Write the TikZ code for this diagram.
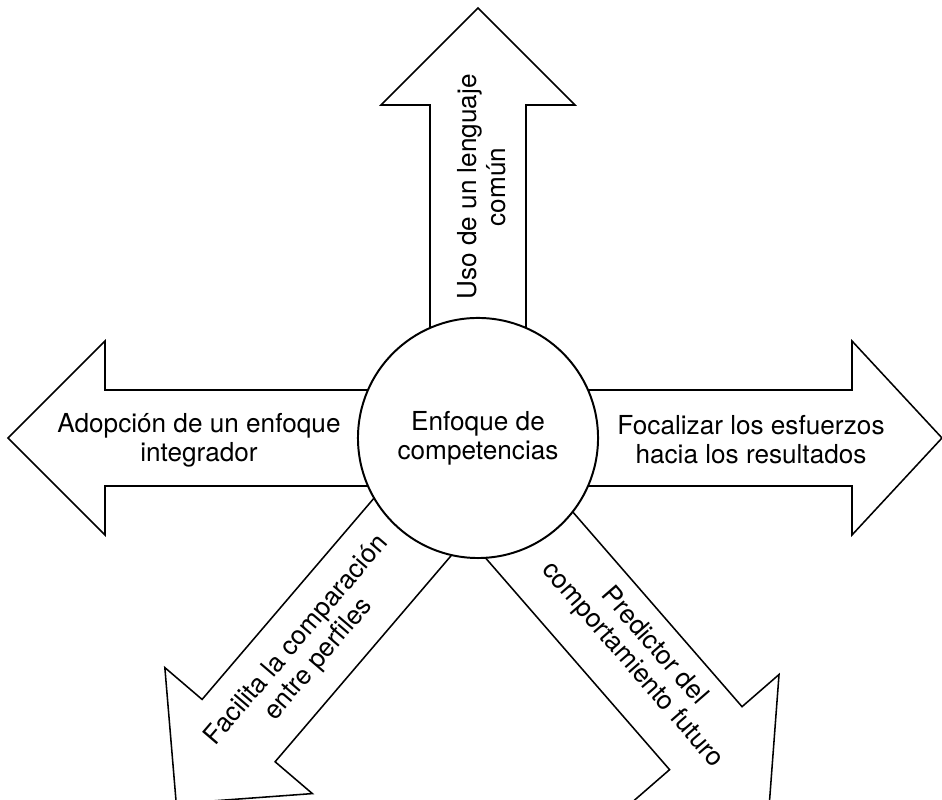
\documentclass[tikz,border=0pt]{standalone}
\usepackage{fontspec}
\setmainfont{TeX Gyre Heros}

\begin{document}
\begin{tikzpicture}[x=0.025cm, y=0.025cm,
      every node/.append style={font=\fontsize{18.6}{20.6}\selectfont,align=center,inner sep=0pt},
      arm/.style={draw=black,fill=white,line width=1.1pt,line join=miter}]
    \tikzstyle{hub} = [circle,draw=black,fill=white,line width=1.4pt,minimum size=6cm]
    \useasboundingbox (0,0) rectangle (942,800);
    \coordinate (centre) at (478,362);
    % the five arms, below the circle
    \begin{scope}[shift={(centre)},rotate=90]
      \draw[arm] (0,-48) -- (333,-48) -- (333,-97) -- (430,0) -- (333,97) -- (333,48) -- (0,48) -- cycle;
    \end{scope}
    \begin{scope}[shift={(centre)},rotate=180]
      \draw[arm] (0,-48) -- (373,-48) -- (373,-97) -- (470,0) -- (373,97) -- (373,48) -- (0,48) -- cycle;
    \end{scope}
    \begin{scope}[shift={(centre)},rotate=0]
      \draw[arm] (0,-48) -- (374,-48) -- (374,-97) -- (464,0) -- (374,97) -- (374,48) -- (0,48) -- cycle;
    \end{scope}
    \begin{scope}[shift={(centre)},rotate=229.5]
      \draw[arm] (0,-40) -- (378,-40) -- (378,-89) -- (474,8) -- (378,105) -- (378,56) -- (0,56) -- cycle;
    \end{scope}
    \begin{scope}[shift={(centre)},rotate=311]
      \draw[arm] (0,-73) -- (376,-73) -- (376,-122) -- (472,-25) -- (376,72) -- (376,23) -- (0,23) -- cycle;
    \end{scope}
    \node (enfoque) [hub] at (centre) {Enfoque de\\competencias};
    % labels on the arms
    \node (uso) [rotate=90] at (482,613) {Uso de un lenguaje\\común};
    \node (adopcion) at (199,360) {Adopción de un enfoque\\integrador};
    \node (focalizar) at (751,360) {Focalizar los esfuerzos\\hacia los resultados};
    \node (facilita) [rotate=49.5] at (308,150) {Facilita la comparación\\entre perfiles};
    \node (predictor) [rotate=-49] at (643,144) {Predictor del\\comportamiento futuro};
  \end{tikzpicture}
\end{document}
